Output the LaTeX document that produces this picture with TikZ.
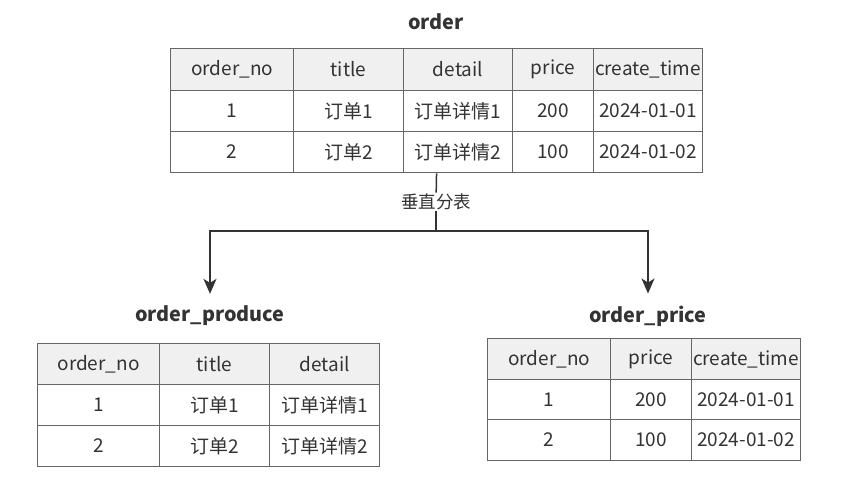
\documentclass[tikz,border=0pt]{standalone}
\usepackage{fontspec}
\setmainfont{Noto Sans CJK SC}
\usetikzlibrary{arrows.meta}
\usetikzlibrary{fit}

\definecolor{tblline}{RGB}{102,102,102}
\definecolor{headfill}{RGB}{240,240,240}
\definecolor{txt}{RGB}{51,51,51}
\definecolor{flowline}{RGB}{51,51,51}

\tikzset{
  cell/.style={draw=tblline, line width=1.1pt, minimum height=41, inner sep=0pt,
    anchor=north west, text=txt, font=\fontsize{19}{23}\selectfont},
  head/.style={cell, fill=headfill},
  tabtitle/.style={text=txt, inner sep=0pt, font=\bfseries\fontsize{19.8}{24}\selectfont},
  flow/.style={draw=flowline, line width=1.5pt},
}

\begin{document}
\begin{tikzpicture}[x=1pt,y=-1pt]
\useasboundingbox[fill=white] (0,0) rectangle (852,499);

% Table: order
\foreach \x/\w/\h/\ra/\rb [count=\c] in {
  170/123/order\_no/1/2,
  293/110/title/订单1/订单2,
  403/109/detail/订单详情1/订单详情2,
  512/81/price/200/100,
  593/109/create\_time/2024-01-01/2024-01-02}
{
  \node[head, minimum width=\w, minimum height=42] (o-1-\c) at (\x,48) {\h};
  \node[cell, minimum width=\w] (o-2-\c) at (\x,90) {\ra};
  \node[cell, minimum width=\w] (o-3-\c) at (\x,131) {\rb};
}
\node[fit=(o-1-1)(o-3-5), inner sep=0pt] (order) {};
\node[tabtitle] (order-t) at (436,22) {order};

% Table: order_produce
\foreach \x/\w/\h/\ra/\rb [count=\c] in {
  37/122/order\_no/1/2,
  159/110/title/订单1/订单2,
  269/110/detail/订单详情1/订单详情2}
{
  \node[head, minimum width=\w] (p-1-\c) at (\x,343) {\h};
  \node[cell, minimum width=\w] (p-2-\c) at (\x,384) {\ra};
  \node[cell, minimum width=\w] (p-3-\c) at (\x,425) {\rb};
}
\node[tabtitle] (produce-t) at (210,316) {order\_produce};

% Table: order_price
\foreach \x/\w/\h/\ra/\rb [count=\c] in {
  487/123/order\_no/1/2,
  610/81/price/200/100,
  691/109/create\_time/2024-01-01/2024-01-02}
{
  \node[head, minimum width=\w] (q-1-\c) at (\x,338) {\h};
  \node[cell, minimum width=\w, minimum height=40] (q-2-\c) at (\x,379) {\ra};
  \node[cell, minimum width=\w] (q-3-\c) at (\x,419) {\rb};
}
\node[tabtitle] (price-t) at (648,316) {order\_price};

% Split arrows
\node[fill=white, inner sep=1pt, text=txt, font=\fontsize{17.5}{21}\selectfont] (split) at (436,202) {垂直分表};
\coordinate (fork) at (436,231);
\draw[flow] (order.south) -- (split);
\draw[flow, -{Stealth[length=15pt, width=13pt, inset=4pt]}, shorten >=12pt] (split) -- (fork) -| (produce-t.north);
\draw[flow, -{Stealth[length=15pt, width=13pt, inset=4pt]}, shorten >=12pt] (split) -- (fork) -| (price-t.north);

\end{tikzpicture}
\end{document}
